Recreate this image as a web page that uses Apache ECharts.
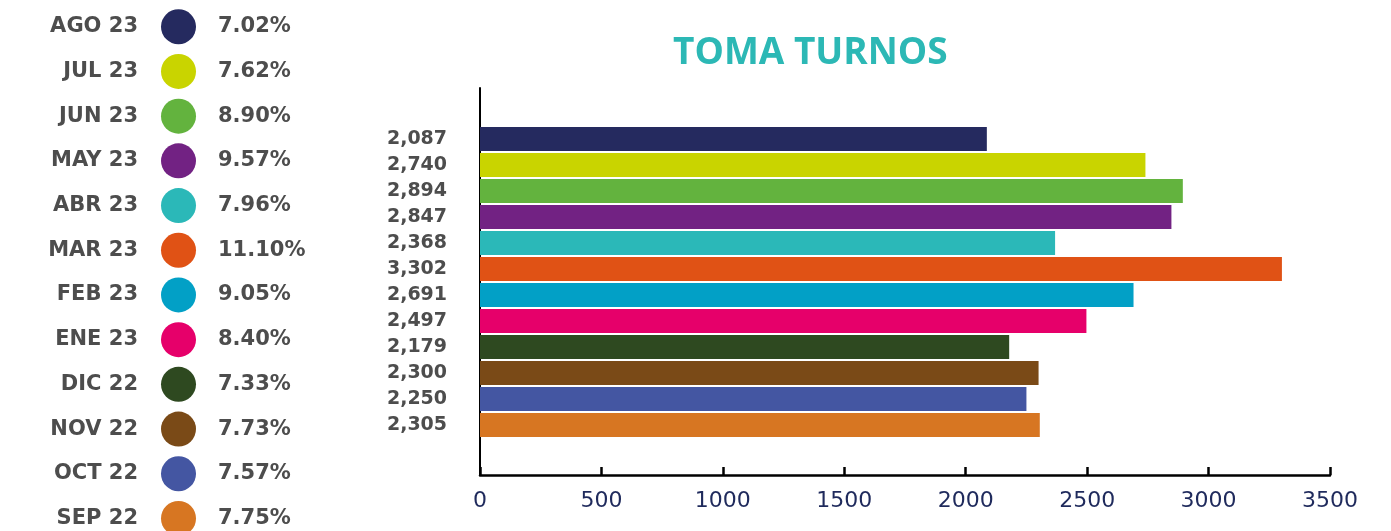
<!DOCTYPE html>
<html>
<head>
<meta charset="utf-8">
<script src="https://cdn.jsdelivr.net/npm/echarts@6/dist/echarts.min.js"></script>
<style>
html, body {margin: 0; padding: 0; background: #fff;}
#chart {width: 1391px; height: 531px;}
</style>
</head>
<body>
<div id="chart"></div>
<script>
var months = ['AGO 23', 'JUL 23', 'JUN 23', 'MAY 23', 'ABR 23', 'MAR 23', 'FEB 23', 'ENE 23', 'DIC 22', 'NOV 22', 'OCT 22', 'SEP 22'];
var turnos = [2087, 2740, 2894, 2847, 2368, 3302, 2691, 2497, 2179, 2300, 2250, 2305];
var pcts = [7.02, 7.62, 8.90, 9.57, 7.96, 11.10, 9.05, 8.40, 7.33, 7.73, 7.57, 7.75];
var colors = ['#252a5f', '#c9d400', '#63b33e', '#722283', '#2bb8b8', '#e05215', '#02a0c6', '#e6006a', '#2e4920', '#7a4a17', '#4456a2', '#d77622'];
var xMin = 0, xMax = 3500, xStep = 500;

var grisTexto = '#4d4d4d';

var option = {
    backgroundColor: '#fff',
    animation: false,
    title: {
        text: 'TOMA TURNOS',
        left: 668,
        top: 30,
        textStyle: {
            fontFamily: 'Open Sans',
            fontSize: 37,
            fontWeight: 'bold',
            color: '#2cb8b5'
        }
    },
    grid: [
        {left: 480, right: 61, top: 88, bottom: 56, outerBoundsMode: 'none'},   //ejes visibles
        {left: 480, right: 61, top: 126, height: 312, outerBoundsMode: 'none'},  //barras
        {left: 160, width: 37, top: 4.4, height: 536.4, outerBoundsMode: 'none'} //leyenda, la ultima fila queda cortada
    ],
    xAxis: [{
        gridIndex: 0,
        type: 'value',
        min: xMin, max: xMax, interval: xStep,
        splitLine: {show: false},
        axisLine: {show: true, lineStyle: {color: '#000', width: 2.5}},
        axisTick: {show: true, inside: true, length: 8, lineStyle: {color: '#000', width: 2.5}},
        axisLabel: {
            margin: 15,
            fontFamily: 'DejaVu Sans',
            fontSize: 22,
            color: '#1f2a5c',
            formatter: function(v){ return String(v); }
        }
    }, {
        gridIndex: 1,
        type: 'value',
        min: xMin, max: xMax,
        show: false
    }, {
        gridIndex: 2,
        type: 'value',
        min: -1, max: 1,
        show: false
    }],
    yAxis: [{
        gridIndex: 0,
        type: 'value',
        axisLine: {show: true, lineStyle: {color: '#000', width: 2}},
        axisTick: {show: false},
        axisLabel: {show: false},
        splitLine: {show: false}
    }, {
        gridIndex: 1,
        type: 'category',
        inverse: true,
        data: months,
        axisLine: {show: false},
        axisTick: {show: false},
        axisLabel: {
            margin: 63,
            align: 'center',
            padding: [5, 0, 0, 0],
            fontFamily: 'DejaVu Sans',
            fontWeight: 'bold',
            fontSize: 19,
            color: grisTexto,
            formatter: function(v, i){
                return turnos[i].toLocaleString('en-US');
            }
        }
    }, {
        gridIndex: 2,
        type: 'category',
        inverse: true,
        data: months,
        axisLine: {show: false},
        axisTick: {show: false},
        axisLabel: {
            margin: 22,
            fontFamily: 'DejaVu Sans',
            fontWeight: 'bold',
            fontSize: 21,
            color: grisTexto
        }
    }],
    series: [{
        type: 'bar',
        xAxisIndex: 1,
        yAxisIndex: 1,
        barWidth: 24,
        data: turnos.map(function(v, i){
            return {value: v, itemStyle: {color: colors[i]}};
        })
    }, {
        type: 'scatter',
        xAxisIndex: 2,
        yAxisIndex: 2,
        symbolSize: 35,
        clip: false,
        data: months.map(function(m, i){
            return {value: [0, i], itemStyle: {color: colors[i], opacity: 1}};
        }),
        label: {
            show: true,
            position: 'right',
            distance: 22,
            fontFamily: 'DejaVu Sans',
            fontWeight: 'bold',
            fontSize: 21,
            color: grisTexto,
            formatter: function(p){
                return pcts[p.dataIndex].toFixed(2) + '%';
            }
        }
    }]
};

var myChart = echarts.init(document.getElementById('chart'));
myChart.setOption(option);
</script>
</body>
</html>
